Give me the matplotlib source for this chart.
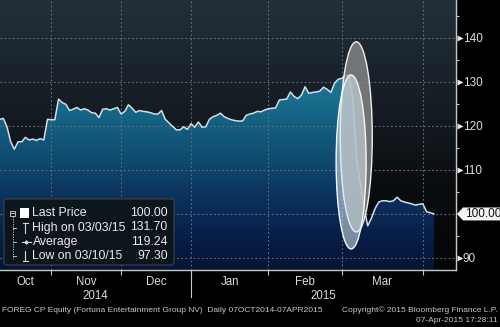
import numpy as np
import matplotlib
matplotlib.use('Agg')
import matplotlib.pyplot as plt
import matplotlib.patches as mpatches
import matplotlib.transforms as mtransforms
from matplotlib.colors import LinearSegmentedColormap

plt.rcParams['font.family'] = ['Liberation Sans', 'DejaVu Sans']

# ── Data ──────────────────────────────────────────────────────────────────
START = '2014-10-07'
# Prague exchange holidays inside the window (no trading)
HOLIDAYS = ['2014-10-28', '2014-11-17', '2014-12-24', '2014-12-25',
            '2014-12-26', '2014-12-31', '2015-01-01', '2015-04-03',
            '2015-04-06']

dates = [
    '2014-10-09', '2014-10-10', '2014-10-13', '2014-10-14', '2014-10-15',
    '2014-10-16', '2014-10-17', '2014-10-20', '2014-10-21', '2014-10-22',
    '2014-10-23', '2014-10-24', '2014-10-27', '2014-10-29', '2014-10-30',
    '2014-10-31',
    '2014-11-03', '2014-11-04', '2014-11-05', '2014-11-06', '2014-11-07',
    '2014-11-10', '2014-11-11', '2014-11-12', '2014-11-13', '2014-11-14',
    '2014-11-18', '2014-11-19', '2014-11-20', '2014-11-21', '2014-11-24',
    '2014-11-25', '2014-11-26', '2014-11-27', '2014-11-28',
    '2014-12-01', '2014-12-02', '2014-12-03', '2014-12-04', '2014-12-05',
    '2014-12-08', '2014-12-09', '2014-12-10', '2014-12-11', '2014-12-12',
    '2014-12-15', '2014-12-16', '2014-12-17', '2014-12-18', '2014-12-19',
    '2014-12-22', '2014-12-23', '2014-12-29', '2014-12-30',
    '2015-01-02', '2015-01-05', '2015-01-06', '2015-01-07', '2015-01-08',
    '2015-01-09', '2015-01-12', '2015-01-13', '2015-01-14', '2015-01-15',
    '2015-01-16', '2015-01-19', '2015-01-20', '2015-01-21', '2015-01-22',
    '2015-01-23', '2015-01-26', '2015-01-27', '2015-01-28', '2015-01-29',
    '2015-01-30',
    '2015-02-02', '2015-02-03', '2015-02-04', '2015-02-05', '2015-02-06',
    '2015-02-09', '2015-02-10', '2015-02-11', '2015-02-12', '2015-02-13',
    '2015-02-16', '2015-02-17', '2015-02-18', '2015-02-19', '2015-02-20',
    '2015-02-23', '2015-02-24', '2015-02-25', '2015-02-26', '2015-02-27',
    '2015-03-02', '2015-03-03', '2015-03-04', '2015-03-05', '2015-03-06',
    '2015-03-09', '2015-03-10', '2015-03-11', '2015-03-12', '2015-03-13',
    '2015-03-16', '2015-03-17', '2015-03-18', '2015-03-19', '2015-03-20',
    '2015-03-23', '2015-03-24', '2015-03-25', '2015-03-26', '2015-03-27',
    '2015-03-30', '2015-03-31',
    '2015-04-01', '2015-04-02', '2015-04-07',
]

prices = [
    121.2, 121.5, 121.7, 119.8, 116.4, 114.7, 116.4, 116.4, 117.4, 116.8,
    117.0, 116.7, 117.1, 116.8, 121.5, 121.4,
    121.4, 126.1, 125.3, 124.9, 123.5, 123.8, 124.2, 123.6, 123.9, 123.6,
    123.0, 122.9, 121.9, 123.8, 123.9, 123.6, 123.9, 124.2, 122.7,
    123.3, 124.8, 124.0, 123.1, 123.5, 123.3, 123.2, 123.0, 122.7, 122.7,
    123.5, 121.5, 120.7, 119.9, 119.1, 119.1, 119.8, 119.2, 120.5,
    119.7, 120.9, 119.7, 119.8, 121.5, 122.1, 122.4, 122.9, 122.1, 121.7,
    121.4, 121.2, 121.1, 121.1, 122.4, 122.7, 122.9, 123.3, 123.2, 123.6,
    123.9,
    124.0, 124.1, 125.9, 126.0, 126.1, 127.7, 126.7, 126.2, 127.0, 128.9,
    127.4, 127.6, 127.7, 127.9, 128.8, 128.3, 127.6, 129.7, 130.6, 130.8,
    131.4, 131.7, 126.0, 112.5, 107.0, 101.7, 97.3, 99.0, 101.2, 102.7,
    103.0, 103.0, 102.8, 103.0, 103.8, 103.0, 102.7, 102.5, 102.3, 102.0,
    102.2, 102.3,
    100.5, 100.3, 100.0,
]

MONTH_STARTS = ['2014-10-01', '2014-11-01', '2014-12-01', '2015-01-01',
                '2015-02-01', '2015-03-01', '2015-04-01']
MONTH_LABELS = ['Oct', 'Nov', 'Dec', 'Jan', 'Feb', 'Mar']
YEAR_LABELS = ['2014', '2015']
Y_TICKS = [90, 100, 110, 120, 130, 140]
Y_MINOR = [95, 105, 115, 125, 135, 145]
AVERAGE = 119.24   # as reported by the terminal over the full window

FOOTER_LEFT = ('FOREG CP Equity (Fortuna Entertainment Group NV)  '
               'Daily 07OCT2014-07APR2015')
FOOTER_RIGHT_1 = 'Copyright\u00a9 2015 Bloomberg Finance L.P.'
FOOTER_RIGHT_2 = '07-Apr-2015 17:28:11'

XLIM = (3.1, 127.0)
YLIM = (87.27, 148.6)

TXT = '#dcdcdc'
GRID = '#66717c'

# ── Positions on trading-day axis ────────────────────────────────────────
x = np.busday_count(START, dates, holidays=HOLIDAYS)
y = np.array(prices)
last = y[-1]

first_days = np.busday_offset(MONTH_STARTS, 0, roll='forward',
                              holidays=HOLIDAYS)
bounds = np.busday_count(START, first_days, holidays=HOLIDAYS) - 1
tick_pos = [b for b in bounds if XLIM[0] < b < XLIM[1]]
edges = np.clip(bounds, XLIM[0], XLIM[1])
label_pos = (edges[:-1] + edges[1:]) / 2
jan_pos = bounds[MONTH_STARTS.index('2015-01-01')]

# ── Figure ────────────────────────────────────────────────────────────────
fig = plt.figure(figsize=(5.0, 3.27), dpi=100, facecolor='black')
ax = fig.add_axes([0, 1 - 270 / 327, 456 / 500, 270 / 327])
ax.set_facecolor('black')

# background gradient
bg_cmap = LinearSegmentedColormap.from_list(
    'bg', [(0.0, '#040506'), (0.3, '#0a0d10'), (0.6, '#151c23'),
           (1.0, '#22303b')])
ax.imshow(np.linspace(0, 1, 256).reshape(-1, 1), extent=[0, 1, 0, 1],
          transform=ax.transAxes, origin='lower', cmap=bg_cmap,
          aspect='auto', zorder=0)

# area fill with vertical gradient
span = YLIM[1] - YLIM[0]
fill_stops = [(87.27, '#051433'), (95, '#081f48'), (100, '#0a2955'),
              (105, '#0c3560'), (112, '#0f4a6f'), (120, '#145e7f'),
              (126, '#196d8d'), (132, '#1e7897'), (148.6, '#2a8aa8')]
fill_cmap = LinearSegmentedColormap.from_list(
    'fill', [((v - YLIM[0]) / span, c) for v, c in fill_stops])
poly = ax.fill_between(x, y, YLIM[0], facecolor='none', edgecolor='none')
im = ax.imshow(np.linspace(YLIM[0], YLIM[1], 256).reshape(-1, 1),
               extent=[XLIM[0], XLIM[1], YLIM[0], YLIM[1]], origin='lower',
               cmap=fill_cmap, vmin=YLIM[0], vmax=YLIM[1], aspect='auto',
               zorder=1)
im.set_clip_path(poly.get_paths()[0], ax.transData)

ax.plot(x, y, color='#d5dde3', lw=1.1, zorder=4, solid_joinstyle='round')

# highlight ellipses (hand-drawn annotation on the terminal)
ax.add_patch(mpatches.Ellipse((99.9, 117.5), 8.7, 43.2, facecolor='#8a8a8a',
                              alpha=0.8, edgecolor='none', zorder=5))
ax.add_patch(mpatches.Ellipse((99.9, 117.5), 8.7, 43.2, facecolor='none',
                              edgecolor='#f0f0f0', lw=1.0, zorder=5.1))
ax.add_patch(mpatches.Ellipse((98.5, 111.8), 8.15, 39.5, facecolor='#d8e8f0',
                              alpha=0.55, edgecolor='none', zorder=6))
ax.add_patch(mpatches.Ellipse((98.5, 111.8), 8.15, 39.5, facecolor='none',
                              edgecolor='#f4f8fa', lw=1.0, zorder=6.1))

ax.set_xlim(*XLIM)
ax.set_ylim(*YLIM)

# grid
for v in Y_TICKS:
    ax.axhline(v, color=GRID, lw=0.8, ls=(0, (1.5, 2.2)), zorder=3)
for b in tick_pos:
    ax.axvline(b, color=GRID, lw=0.8, ls=(0, (1.5, 2.2)), zorder=3)

# spines
for s in ['top', 'left']:
    ax.spines[s].set_visible(False)
for s in ['bottom', 'right']:
    ax.spines[s].set_color('#c8c8c8')
    ax.spines[s].set_linewidth(1.0)

# x axis: boundary ticks, month labels on minor ticks
ax.set_xticks(tick_pos)
ax.set_xticklabels([])
ax.set_xticks(label_pos, minor=True)
ax.set_xticklabels(MONTH_LABELS, minor=True)
ax.tick_params(axis='x', which='major', direction='out', length=3.5,
               width=0.8, color='#c8c8c8')
ax.tick_params(axis='x', which='minor', length=0, pad=4, labelsize=8.3,
               labelcolor=TXT)
ax.axvline(jan_pos, ymin=-0.1, ymax=0, clip_on=False, color='#c8c8c8',
           lw=0.8)
year_tr = mtransforms.blended_transform_factory(ax.transData, ax.transAxes)
ax.text((XLIM[0] + jan_pos) / 2, -0.098, YEAR_LABELS[0], transform=year_tr,
        ha='center', va='center', color=TXT, fontsize=8.3)
ax.text((jan_pos + XLIM[1]) / 2, -0.098, YEAR_LABELS[1], transform=year_tr,
        ha='center', va='center', color=TXT, fontsize=8.3)

# y axis on the right with flag markers; the last-price flag takes the
# place of the tick that it sits on
flag_ticks = [v for v in Y_TICKS if abs(v - last) >= 2]
ax.yaxis.tick_right()
ax.set_yticks(Y_TICKS)
ax.set_yticklabels([str(v) if v in flag_ticks else '' for v in Y_TICKS])
ax.set_yticks(Y_MINOR, minor=True)
ax.tick_params(axis='y', which='major', length=0, pad=5, labelsize=8.5,
               labelcolor=TXT)
ax.tick_params(axis='y', which='minor', direction='out', length=2.5,
               width=0.8, color='#c8c8c8')
flag_tr = mtransforms.blended_transform_factory(ax.transAxes, ax.transData)
ax.plot([1 + 3.5 / 456] * len(flag_ticks), flag_ticks, ls='none',
        marker='>', ms=5, color='#e8e8e8', mec='none', transform=flag_tr,
        clip_on=False, zorder=6)

# ── overlay in pixel coordinates ──────────────────────────────────────────
ov = fig.add_axes([0, 0, 1, 1], zorder=10)
ov.set_xlim(0, 500)
ov.set_ylim(327, 0)
ov.axis('off')

# last price flag
ly = 327 - ax.transData.transform((0, last))[1]
ov.add_patch(mpatches.Polygon([(457, ly), (463, ly - 6.5), (500, ly - 6.5),
                               (500, ly + 6.5), (463, ly + 6.5)],
                              closed=True, facecolor='#f2f2f2',
                              edgecolor='none'))
ov.text(465, ly + 0.5, f'{last:.2f}', color='#111111', fontsize=8.5,
        ha='left', va='center')

# legend box
ov.add_patch(mpatches.FancyBboxPatch((4, 199), 170, 66,
                                     boxstyle='round,pad=0,rounding_size=3',
                                     facecolor='#0e141a', edgecolor='#3c4651',
                                     lw=0.8, alpha=0.95))
hi_i = int(np.argmax(y))
lo_i = int(np.argmin(y))


def fmt_date(d):
    yy, mm, dd = d.split('-')
    return f'{mm}/{dd}/{yy[2:]}'


rows = [
    ('Last Price', f'{last:.2f}'),
    (f'High on {fmt_date(dates[hi_i])}', f'{y[hi_i]:.2f}'),
    ('Average', f'{AVERAGE:.2f}'),
    (f'Low on {fmt_date(dates[lo_i])}', f'{y[lo_i]:.2f}'),
]
row_y = [213, 227.5, 242, 256]
for (lab, val), ry in zip(rows, row_y):
    ov.text(32.5, ry, lab, color='#ececec', fontsize=8.8, ha='left',
            va='center')
    ov.text(167.5, ry, val, color='#ececec', fontsize=8.8, ha='right',
            va='center')

lc = '#d8d8d8'
# tree icon
ov.add_patch(mpatches.Rectangle((10, 210.5), 5, 5, facecolor='none',
                                edgecolor=lc, lw=0.6))
ov.plot([11, 14], [213, 213], color=lc, lw=0.6)
ov.plot([12.5, 12.5], [216, 259], color=lc, lw=0.6, ls=(0, (1.5, 1.5)))
for ry in row_y[1:]:
    ov.plot([12.5, 16], [ry, ry], color=lc, lw=0.6)
# series markers
ov.add_patch(mpatches.Rectangle((20, 208), 9, 10, facecolor='white',
                                edgecolor='none'))
ov.plot([22.5, 27.5], [222.5, 222.5], color=lc, lw=0.8)
ov.plot([25, 25], [222.5, 232.5], color=lc, lw=0.8)
ov.plot([21.5, 30.5], [242, 242], color=lc, lw=0.8)
ov.plot([26], [242], marker='D', ms=2.5, color=lc, mec='none')
ov.plot([25, 25], [251, 261], color=lc, lw=0.8)
ov.plot([22.5, 27.5], [261, 261], color=lc, lw=0.8)

# footer
ov.text(2, 310, FOOTER_LEFT, color='#c8c8c8', fontsize=6, ha='left',
        va='center')
ov.text(498, 310, FOOTER_RIGHT_1, color='#c8c8c8', fontsize=6, ha='right',
        va='center')
ov.text(498, 321, FOOTER_RIGHT_2, color='#c8c8c8', fontsize=6, ha='right',
        va='center')

fig.savefig('out.png', dpi=100, facecolor='black')
